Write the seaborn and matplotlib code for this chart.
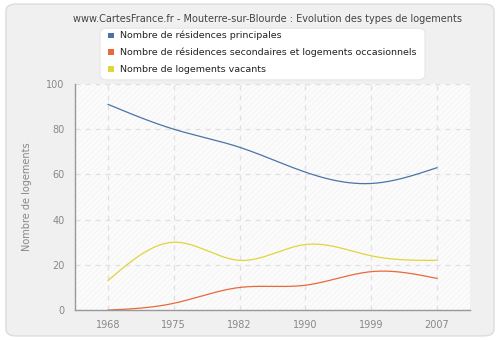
import numpy as np
import pandas as pd
import matplotlib
matplotlib.use("Agg")
import matplotlib.pyplot as plt
from matplotlib.patches import FancyBboxPatch
import seaborn as sns

years = ["1968", "1975", "1982", "1990", "1999", "2007"]
principales = [91, 80, 72, 61, 56, 63]
secondaires = [0, 3, 10, 11, 17, 14]
vacants = [13, 30, 22, 29, 24, 22]

series_names = [
    "Nombre de résidences principales",
    "Nombre de résidences secondaires et logements occasionnels",
    "Nombre de logements vacants",
]
colors = ["#4a74a8", "#e8693a", "#e0d53a"]


def natural_spline(y, n=60):
    """Smooth natural cubic spline through equally spaced points."""
    y = np.asarray(y, dtype=float)
    k = len(y)
    x = np.arange(k, dtype=float)
    A = np.zeros((k, k))
    b = np.zeros(k)
    A[0, 0] = A[-1, -1] = 1
    for i in range(1, k - 1):
        A[i, i - 1], A[i, i], A[i, i + 1] = 1, 4, 1
        b[i] = 6 * (y[i + 1] - 2 * y[i] + y[i - 1])
    m = np.linalg.solve(A, b)
    xs, ys = [], []
    for i in range(k - 1):
        t = np.linspace(0, 1, n, endpoint=(i == k - 2))
        a = 1 - t
        seg = a * y[i] + t * y[i + 1] + ((a ** 3 - a) * m[i] + (t ** 3 - t) * m[i + 1]) / 6
        xs.append(x[i] + t)
        ys.append(seg)
    return np.concatenate(xs), np.concatenate(ys)


frames = []
for name, vals in zip(series_names, [principales, secondaires, vacants]):
    xs, ys = natural_spline(vals)
    frames.append(pd.DataFrame({"x": xs, "y": ys, "serie": name}))
df = pd.concat(frames, ignore_index=True)

sns.set_style("white")
plt.rcParams["font.family"] = ["DejaVu Sans"]
plt.rcParams["hatch.linewidth"] = 0.4

fig = plt.figure(figsize=(5, 3.4), dpi=100, facecolor="white")
panel = FancyBboxPatch((0.012, 0.012), 0.976, 0.976,
                       boxstyle="round,pad=0,rounding_size=0.02",
                       transform=fig.transFigure, facecolor="#f0f0f0",
                       edgecolor="#dcdcdc", linewidth=1.0, zorder=-5)
fig.patches.append(panel)

ax = fig.add_axes([0.15, 0.088, 0.79, 0.665])
ax.set_zorder(2)
ax.set_facecolor("#fbfbfb")
ax.patch.set_hatch("//////")
ax.patch.set_edgecolor("#f1f1f1")

sns.lineplot(data=df, x="x", y="y", hue="serie", palette=colors,
             hue_order=series_names, linewidth=0.9, legend=False,
             sort=False, estimator=None, ax=ax)

ax.set_xlim(-0.5, len(years) - 0.5)
ax.set_ylim(0, 100)
ax.set_xticks(range(len(years)))
ax.set_xticklabels(years)
ax.set_yticks([0, 20, 40, 60, 80, 100])
ax.grid(True, color="#e0e0e0", linestyle=(0, (4, 4)), linewidth=0.9)
ax.set_axisbelow(True)
for s in ["top", "right"]:
    ax.spines[s].set_visible(False)
for s in ["left", "bottom"]:
    ax.spines[s].set_color("#999999")
    ax.spines[s].set_linewidth(1.0)
ax.tick_params(axis="both", colors="#999999", labelcolor="#888888",
               labelsize=7, length=4, width=1, direction="out")
ax.set_xlabel("")
ax.set_ylabel("Nombre de logements", color="#888888", fontsize=7.0, labelpad=10)

fig.text(0.535, 0.945, "www.CartesFrance.fr - Mouterre-sur-Blourde : Evolution des types de logements",
         ha="center", va="center", fontsize=7.0, color="#444444")

legend_box = FancyBboxPatch((0.2, 0.765), 0.65, 0.152,
                            boxstyle="round,pad=0,rounding_size=0.015",
                            transform=fig.transFigure, facecolor="white",
                            edgecolor="#e6e6e6", linewidth=0.8, zorder=3)
fig.patches.append(legend_box)
for i, (name, c) in enumerate(zip(series_names, colors)):
    yy = 0.897 - i * 0.0495
    fig.patches.append(plt.Rectangle((0.216, yy - 0.009), 0.011, 0.016,
                                     transform=fig.transFigure, facecolor=c,
                                     edgecolor="none", zorder=4))
    fig.text(0.24, yy - 0.001, name, ha="left", va="center", fontsize=6.8,
             color="#222222", zorder=5)

fig.savefig("out.png", dpi=100, facecolor=fig.get_facecolor())
